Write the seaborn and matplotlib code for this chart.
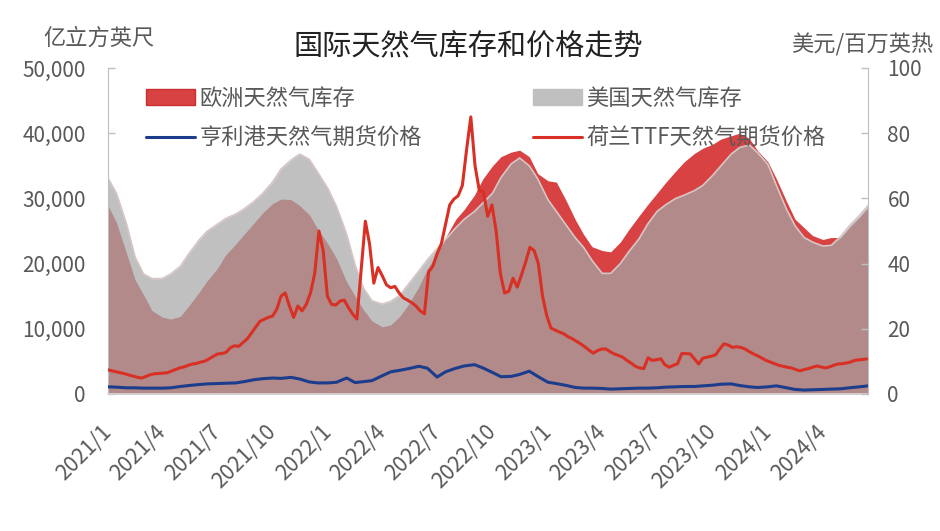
import numpy as np
import pandas as pd
import matplotlib
matplotlib.use("Agg")
import matplotlib.pyplot as plt
from matplotlib.patches import Patch
from matplotlib.lines import Line2D
from matplotlib.ticker import FuncFormatter, MultipleLocator
import seaborn as sns

# ── 数据 ──────────────────────────────────────────────────────────
# 库存：半月频（每月1日、15日），单位 亿立方英尺
storage_dates = pd.date_range("2021-01-01", "2024-06-15", freq="SMS")

eu_storage = [
    28900, 26300, 21500, 17500, 15200, 12800, 11800, 11500, 11900, 13500, 15600, 17400,
    19200, 21300, 23000, 24500, 26300, 27800, 29200, 29900, 29800, 28900, 27500, 25300,
    23000, 20800, 17200, 15000, 12900, 11200, 10300, 10600, 12000, 13800, 16500, 19200,
    21500, 24000, 26800, 28300, 30500, 33000, 35000, 36400, 37100, 37400, 36400, 33800,
    32700, 32500, 29500, 26800, 24500, 22600, 22000, 21800, 23300, 25200, 27300, 29000,
    30800, 32400, 34200, 35600, 36900, 37700, 38300, 39100, 39600, 40000, 39200, 37300,
    35600, 33000, 29500, 26800, 25500, 24300, 23700, 24000, 24000, 25500, 27100, 28600,
]

us_storage = [
    33100, 30800, 26000, 21000, 18400, 17700, 17700, 18400, 19600, 21500, 23600, 25000,
    26000, 26900, 27600, 28400, 29600, 30800, 32500, 34500, 35900, 36800, 36000, 34000,
    31500, 28800, 24500, 19800, 16200, 14300, 13800, 14200, 15200, 16900, 18900, 20600,
    22300, 23700, 25500, 26800, 28000, 29300, 30800, 33200, 35300, 36200, 35000, 33000,
    29800, 28000, 25800, 24000, 22500, 20500, 18500, 18500, 20000, 21800, 23800, 26000,
    28000, 29000, 30000, 30500, 31200, 32000, 33500, 35000, 36800, 37800, 38200, 37000,
    35200, 32000, 28300, 25800, 24000, 23300, 22700, 22800, 24200, 25800, 27400, 28900,
]

# 亨利港期货价格：半月频，美元/百万英热
hh_price = [
    2.2, 2.1, 1.9, 1.9, 1.8, 1.8, 1.8, 1.9, 2.3, 2.6, 2.9, 3.1,
    3.2, 3.3, 3.4, 3.8, 4.4, 4.7, 4.9, 4.8, 5.1, 4.6, 3.7, 3.4,
    3.4, 3.6, 4.9, 3.5, 3.8, 4.1, 5.6, 6.8, 7.3, 7.8, 8.5, 7.9,
    5.2, 6.8, 7.9, 8.6, 9.0, 8.0, 6.6, 5.3, 5.4, 6.0, 7.0, 5.4,
    3.6, 3.2, 2.6, 2.0, 1.8, 1.8, 1.7, 1.5, 1.6, 1.7, 1.8, 1.8,
    1.9, 2.1, 2.2, 2.3, 2.3, 2.5, 2.7, 3.0, 3.1, 2.6, 2.2, 2.0,
    2.2, 2.5, 1.9, 1.4, 1.2, 1.3, 1.4, 1.5, 1.6, 1.9, 2.2, 2.5,
]

# 荷兰TTF期货价格：周频（周五），美元/百万英热
ttf_dates = pd.date_range("2021-01-01", "2024-06-14", freq="W-FRI")

ttf_price = [
    7.4, 7.1, 6.8, 6.5, 6.2, 5.8, 5.5, 5.1, 4.9, 5.4, 5.9, 6.2, 6.3, 6.4, 6.5, 7.0,
    7.5, 8.0, 8.3, 8.8, 9.2, 9.4, 9.8, 10.1, 10.8, 11.6, 12.3, 12.4, 12.8, 14.2, 14.8, 14.6,
    15.8, 16.9, 18.7, 20.5, 22.3, 22.9, 23.5, 23.9, 26.0, 30.0, 31.0, 27.0, 23.5, 27.0,
    25.5, 27.5, 31.0, 37.0, 50.0, 44.0, 30.0, 27.5, 27.3, 28.5, 28.8, 26.5, 24.5, 23.0,
    38.0, 53.0, 46.0, 34.0, 38.8, 36.3, 33.5, 32.6, 33.0, 31.0, 29.5, 28.8, 28.0, 27.0,
    25.5, 24.6, 37.5, 39.2, 43.0, 46.0, 52.0, 58.0, 59.8, 60.8, 64.0, 75.0, 85.0, 70.0,
    62.5, 62.0, 54.5, 58.0, 50.0, 37.0, 31.0, 31.5, 35.5, 32.8, 36.5, 40.5, 45.0, 44.0,
    40.0, 30.0, 24.0, 20.2, 19.6, 19.0, 18.5, 17.6, 17.0, 16.2, 15.4, 14.5, 13.5, 12.5,
    13.3, 13.8, 13.8, 13.0, 12.3, 11.8, 11.3, 10.3, 9.5, 8.5, 8.0, 7.8, 11.1, 10.3,
    10.5, 10.8, 9.0, 8.2, 8.8, 9.3, 12.4, 12.4, 12.3, 10.8, 9.2, 11.0, 11.3, 11.6,
    12.0, 13.8, 15.4, 15.0, 14.3, 14.5, 14.3, 13.8, 13.0, 12.3, 11.7, 11.0, 10.3, 9.8,
    9.3, 8.8, 8.5, 8.2, 8.0, 7.5, 7.1, 7.5, 7.8, 8.2, 8.6, 8.3, 8.0, 8.3, 8.8, 9.2,
    9.3, 9.5, 9.8, 10.3, 10.5, 10.6, 10.8,
]

tick_dates = pd.date_range("2021-01-01", "2024-04-01", freq="QS")

# ── 样式 ──────────────────────────────────────────────────────────
sns.set_style("white")
plt.rcParams["font.family"] = ["Noto Sans CJK SC", "DejaVu Sans"]
plt.rcParams["axes.unicode_minus"] = False

EU_RED = "#d84242"
EU_EDGE = "#c83030"
US_GRAY = "#c0c0c0"
OVERLAP = "#b28a8a"
TTF_RED = "#d93025"
HH_BLUE = "#1c3c8c"
TXT = "#595959"

fig = plt.figure(figsize=(9.4, 5.31), dpi=100)
ax = fig.add_axes([108 / 940, 1 - 394 / 531, 760 / 940, 326 / 531])

eu = np.array(eu_storage)
us = np.array(us_storage)

# 欧洲在下，美国在上，重叠部分用混合色
ax.fill_between(storage_dates, eu, color=EU_RED, lw=0)
ax.fill_between(storage_dates, us, color=US_GRAY, lw=0)
ax.fill_between(storage_dates, np.minimum(eu, us), color=OVERLAP, lw=0)
ax.plot(storage_dates, us, color="#d6c6c6", lw=1.2)

ax.set_ylim(0, 50000)
ax.yaxis.set_major_locator(MultipleLocator(10000))
ax.yaxis.set_major_formatter(FuncFormatter(lambda v, p: f"{int(v):,}"))
ax.set_xlim(pd.Timestamp("2021-01-01"), pd.Timestamp("2024-06-15"))
ax.set_xticks(tick_dates)
ax.set_xticklabels([f"{d.year}/{d.month}" for d in tick_dates])

# 价格（右轴）
ax2 = ax.twinx()
sns.lineplot(x=storage_dates, y=hh_price, ax=ax2, color=HH_BLUE, lw=2.2)
sns.lineplot(x=ttf_dates, y=ttf_price, ax=ax2, color=TTF_RED, lw=2.2)
ax2.set_ylim(0, 100)
ax2.yaxis.set_major_locator(MultipleLocator(20))
ax2.set_xlim(pd.Timestamp("2021-01-01"), pd.Timestamp("2024-06-15"))
ax2.set_ylabel("")
ax2.set_xlabel("")

for a in (ax, ax2):
    a.spines["top"].set_visible(False)
    a.spines["left"].set_color("#bfbfbf")
    a.spines["right"].set_color("#bfbfbf")
    a.spines["bottom"].set_color("#d9d9d9")
    a.spines["bottom"].set_linewidth(1.2)
ax.spines["right"].set_visible(False)
ax2.spines["left"].set_visible(False)
ax2.spines["bottom"].set_visible(False)

ax.tick_params(axis="y", direction="in", length=5, width=1, color="#bfbfbf",
               labelsize=15, labelcolor=TXT, pad=16)
ax2.tick_params(axis="y", direction="in", length=5, width=1, color="#bfbfbf",
                labelsize=15, labelcolor=TXT, pad=14)
ax.tick_params(axis="x", direction="in", length=5, width=1, color="#e6e6e6",
               labelsize=15.5, labelcolor=TXT, pad=25)
plt.setp(ax.get_xticklabels(), rotation=45, ha="right", va="center",
         rotation_mode="anchor")

# 标题和单位
fig.text(0.498, 1 - 47 / 531, "国际天然气库存和价格走势", ha="center", va="center",
         fontsize=21, color="#222222")
fig.text(43 / 940, 1 - 38 / 531, "亿立方英尺", ha="left", va="center",
         fontsize=16, color=TXT)
fig.text(933 / 940, 1 - 45 / 531, "美元/百万英热", ha="right", va="center",
         fontsize=16, color=TXT)

# 图例
handles = [
    Patch(facecolor=EU_RED, edgecolor=EU_EDGE),
    Line2D([], [], color=HH_BLUE, lw=2.2),
    Patch(facecolor=US_GRAY, edgecolor=US_GRAY),
    Line2D([], [], color=TTF_RED, lw=2.2),
]
labels = ["欧洲天然气库存", "亨利港天然气期货价格", "美国天然气库存", "荷兰TTF天然气期货价格"]
leg = fig.legend(handles, labels, ncol=2, loc="upper left",
                 bbox_to_anchor=(146 / 940, 1 - 87 / 531), frameon=False,
                 fontsize=16, handlelength=2.2, handleheight=0.75,
                 handletextpad=0.2, columnspacing=5.0, labelspacing=0.75,
                 borderpad=0, borderaxespad=0)
for t in leg.get_texts():
    t.set_color(TXT)

plt.savefig("out.png", dpi=100)
